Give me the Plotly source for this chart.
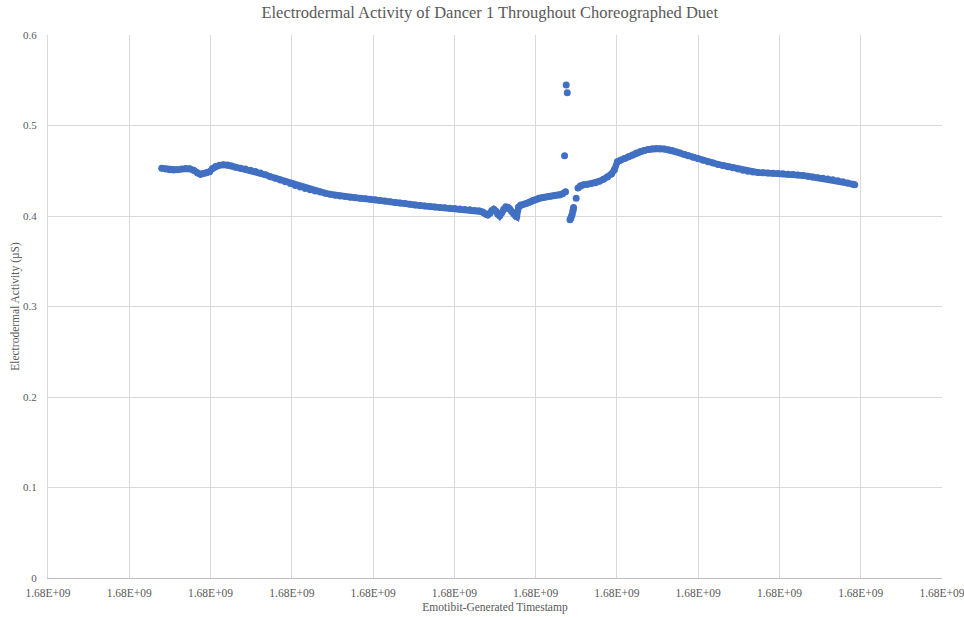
import plotly.graph_objects as go

# EmotiBit session start (Unix seconds); sample times below are offsets from it
T0 = 1681000000

# Seconds after T0 for each EDA sample; None separates recording segments
seconds = [
    139.9, 144.8, 149.7, 154.6, 159.5, 164.4, 169.3, 174.2, 179.1, 184.0,
    187.7, 191.4, 195.1, 198.8, 202.5, 206.1, 211.0, 215.9, 220.9, 225.8,
    230.7, 236.8, 242.9, 249.1, 255.2, 261.3, 267.5, 273.6, 279.8, 285.9,
    292.0, 298.2, 304.3, 310.4, 316.6, 322.7, 328.8, 335.0, 341.1, 347.2,
    353.4, 359.5, 365.6, 371.8, 377.9, 384.0, 390.2, 396.3, 402.5, 408.6,
    414.7, 420.9, 427.0, 433.1, 439.3, 445.4, 451.5, 457.7, 463.8, 469.9,
    476.1, 482.2, 488.3, 494.5, 500.6, 506.7, 512.9, 519.0, 525.2, 530.1,
    533.7, 536.2, 538.7, 541.1, 543.6, 546.0, 548.5, 551.0, 553.4, 555.8,
    558.3, 560.7, 563.2, 565.6, 568.1, 570.6, 573.0, 575.5, 576.7, 579.1,
    581.6, 585.3, 589.0, 592.6, 596.3, 600.0, 603.7, 607.4, 611.0, 614.7,
    618.4, 622.1, 625.8, 629.4, 633.1, 636.8,
    None, 635.6, None, 637.6, None, 638.9, None,
    642.3, 643.6, 644.8, 646.0, 646.6,
    None, 649.9, None,
    652.1, 655.2, 658.9, 663.8, 668.7, 673.6, 678.5, 683.4, 688.3, 693.3,
    696.9, 700.6, 704.3, 709.2, 714.1, 719.0, 723.9, 728.8, 733.7, 738.7,
    743.6, 748.5, 753.4, 758.3, 763.2, 768.1, 773.0, 777.9, 782.8, 787.7,
    793.9, 800.0, 806.1, 812.3, 818.4, 824.5, 830.7, 836.8, 842.9, 849.1,
    855.2, 861.3, 867.5, 873.6, 879.8, 885.9, 892.0, 898.2, 904.3, 910.4,
    916.6, 922.7, 928.8, 935.0, 941.1, 947.2, 953.4, 959.5, 965.6, 971.8,
    977.9, 984.0, 990.2, 992.6,
]

# Electrodermal activity (microsiemens) at each sample
eda = [
    0.4527, 0.4520, 0.4512, 0.4508, 0.4512, 0.4518, 0.4526, 0.4522, 0.4505, 0.4475,
    0.4460, 0.4470, 0.4478, 0.4490, 0.4525, 0.4548, 0.4560, 0.4565, 0.4563, 0.4552,
    0.4540, 0.4528, 0.4518, 0.4505, 0.4492, 0.4475, 0.4455, 0.4435, 0.4418, 0.4398,
    0.4378, 0.4358, 0.4338, 0.4320, 0.4305, 0.4290, 0.4277, 0.4265, 0.4252, 0.4240,
    0.4230, 0.4222, 0.4215, 0.4208, 0.4203, 0.4197, 0.4190, 0.4185, 0.4180, 0.4172,
    0.4165, 0.4158, 0.4150, 0.4143, 0.4138, 0.4130, 0.4122, 0.4117, 0.4110, 0.4105,
    0.4100, 0.4095, 0.4090, 0.4086, 0.4082, 0.4078, 0.4073, 0.4068, 0.4062, 0.4058,
    0.4048, 0.4035, 0.4020, 0.4012, 0.4030, 0.4060, 0.4074, 0.4055, 0.4020, 0.4002,
    0.4035, 0.4075, 0.4100, 0.4098, 0.4080, 0.4050, 0.4025, 0.4000, 0.3993, 0.4100,
    0.4122, 0.4130, 0.4140, 0.4155, 0.4170, 0.4182, 0.4196, 0.4203, 0.4208, 0.4213,
    0.4218, 0.4225, 0.4230, 0.4232, 0.4245, 0.4269,
    None, 0.4667, None, 0.5448, None, 0.5363, None,
    0.3958, 0.3980, 0.4015, 0.4060, 0.4095,
    None, 0.4196, None,
    0.4310, 0.4335, 0.4345, 0.4350, 0.4358, 0.4368, 0.4385, 0.4405, 0.4430, 0.4465,
    0.4510, 0.4600, 0.4615, 0.4635, 0.4655, 0.4675, 0.4695, 0.4712, 0.4725, 0.4735,
    0.4742, 0.4745, 0.4744, 0.4740, 0.4733, 0.4723, 0.4710, 0.4695, 0.4680, 0.4665,
    0.4648, 0.4632, 0.4617, 0.4600, 0.4585, 0.4570, 0.4558, 0.4545, 0.4533, 0.4520,
    0.4506, 0.4495, 0.4487, 0.4480, 0.4477, 0.4475, 0.4473, 0.4470, 0.4466, 0.4462,
    0.4458, 0.4454, 0.4448, 0.4440, 0.4432, 0.4424, 0.4416, 0.4408, 0.4400, 0.4390,
    0.4378, 0.4365, 0.4352, 0.4345,
]

# Axis ticks: every 100 s on the timestamp axis, all shown as 1.68E+09
x_tick_offsets = [0, 100, 200, 300, 400, 500, 600, 700, 800, 900, 1000, 1100]
x_tick_labels = ["1.68E+09"] * len(x_tick_offsets)
y_ticks = [0, 0.1, 0.2, 0.3, 0.4, 0.5, 0.6]
y_tick_labels = ["0", "0.1", "0.2", "0.3", "0.4", "0.5", "0.6"]

timestamps = [None if s is None else T0 + s for s in seconds]
x_tickvals = [T0 + s for s in x_tick_offsets]

SERIF = "Liberation Serif, Times New Roman, serif"
TEXT_GRAY = "#595959"
GRID = "#d9d9d9"
BLUE = "#4170c3"

# Densely sampled markers merge into a thick band; a line of the same width
# fills the spacing between samples, broken at the None gaps.
fig = go.Figure(
    go.Scatter(
        x=timestamps,
        y=eda,
        mode="lines+markers",
        line=dict(color=BLUE, width=6.5),
        marker=dict(color=BLUE, size=7, line=dict(width=0)),
        connectgaps=False,
        showlegend=False,
    )
)

fig.update_layout(
    width=964,
    height=617,
    margin=dict(l=48, r=22, t=35, b=39),
    paper_bgcolor="white",
    plot_bgcolor="white",
    font=dict(family=SERIF, color=TEXT_GRAY, size=11),
    title=dict(
        text="Electrodermal Activity of Dancer 1 Throughout Choreographed Duet",
        font=dict(family=SERIF, size=16.5, color=TEXT_GRAY),
        x=0.508,
        xanchor="center",
        xref="container",
        y=1 - 12 / 617,
        yanchor="middle",
        yref="container",
    ),
    xaxis=dict(
        range=[x_tickvals[0], x_tickvals[-1]],
        tickmode="array",
        tickvals=x_tickvals,
        ticktext=x_tick_labels,
        showgrid=True,
        gridcolor=GRID,
        gridwidth=1,
        showline=True,
        linecolor="#bfbfbf",
        linewidth=1,
        zeroline=False,
        ticks="",
        ticklabelstandoff=4,
        ticklabeloverflow="allow",
        tickfont=dict(family=SERIF, size=11.5, color=TEXT_GRAY),
        title=dict(
            text="Emotibit-Generated Timestamp",
            font=dict(family=SERIF, size=11.5, color=TEXT_GRAY),
            standoff=5,
        ),
        automargin=False,
    ),
    yaxis=dict(
        range=[0, 0.6],
        tickmode="array",
        tickvals=y_ticks,
        ticktext=y_tick_labels,
        showgrid=True,
        gridcolor=GRID,
        gridwidth=1,
        showline=True,
        linecolor=GRID,
        zeroline=False,
        ticks="",
        ticklabelstandoff=8,
        tickfont=dict(family=SERIF, size=11, color=TEXT_GRAY),
        title=dict(
            text="Electrodermal Activity (µS)",
            font=dict(family=SERIF, size=11.5, color=TEXT_GRAY),
            standoff=1,
        ),
        automargin=False,
    ),
)

fig.write_html("out.html")
